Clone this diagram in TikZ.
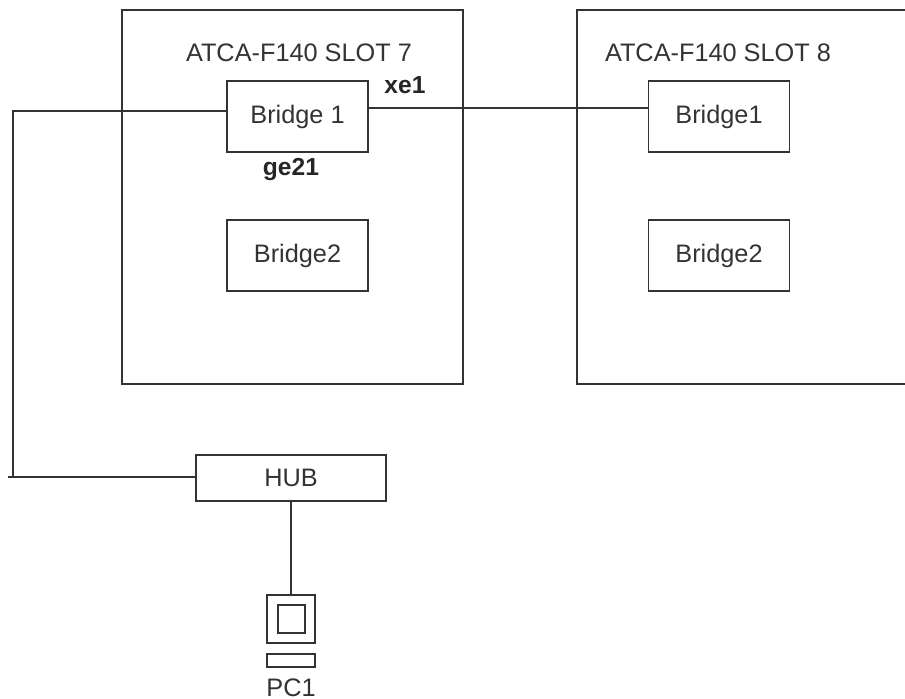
\documentclass[tikz,border=0pt]{standalone}
\usepackage{fontspec}
\setmainfont{Liberation Sans}
\definecolor{inkgrey}{HTML}{333333}
\tikzset{
  block/.style={draw=inkgrey,line width=0.55pt,inner sep=0pt,text=inkgrey,font=\fontsize{7.2}{9}\selectfont},
  slot/.style={block,minimum width=3.41cm,minimum height=3.74cm},
  bridge/.style={block,minimum width=1.41cm,minimum height=0.71cm},
  caption/.style={inner sep=0pt,text=inkgrey,font=\fontsize{7.2}{9}\selectfont},
  port/.style={inner sep=0pt,text=black!85,font=\fontsize{7}{9}\selectfont\bfseries},
  link/.style={draw=inkgrey,line width=0.55pt}
}
\begin{document}
\begin{tikzpicture}
      \useasboundingbox (0,0) rectangle (9.05,6.99);
      % slots
      \node [slot] (slotseven) at (2.925,5.02) {};
      \node [slot] (sloteight) at (7.475,5.02) {};
      \node [caption] (titleseven) at (2.99,6.46) {ATCA-F140 SLOT 7};
      \node [caption] (titleeight) at (7.18,6.46) {ATCA-F140 SLOT 8};
      % bridges
      \node [bridge] (sevenone) at (2.975,5.825) {Bridge 1};
      \node [bridge] (seventwo) at (2.975,4.435) {Bridge2};
      \node [bridge] (eightone) at (7.19,5.825) {Bridge1};
      \node [bridge] (eighttwo) at (7.19,4.435) {Bridge2};
      % port labels
      \node [port] (xe) at (4.05,6.14) {xe1};
      \node [port] (ge) at (2.91,5.29) {ge21};
      % hub and pc
      \node [block,minimum width=1.9cm,minimum height=0.46cm] (hub) at (2.91,2.21) {HUB};
      \node [block,minimum width=0.48cm,minimum height=0.48cm] (screen) at (2.91,0.80) {};
      \node [block,minimum width=0.27cm,minimum height=0.28cm] (display) at (2.915,0.80) {};
      \node [block,minimum width=0.48cm,minimum height=0.13cm] (keyboard) at (2.91,0.385) {};
      \node [caption] (pc) at (2.91,0.11) {PC1};
      \coordinate (corner) at (0.13,5.88);
      \coordinate (stub) at (0.08,2.22);

      % links
      \draw [link] ([yshift=0.055cm]sevenone.west) -- (corner) -- (corner |- stub);
      \draw [link] (stub) -- ([yshift=0.01cm]hub.west);
      \draw [link] ([yshift=0.085cm]sevenone.east) -- ([yshift=0.085cm]eightone.west);
      \draw [link] (hub) -- (screen);
    \end{tikzpicture}
\end{document}
